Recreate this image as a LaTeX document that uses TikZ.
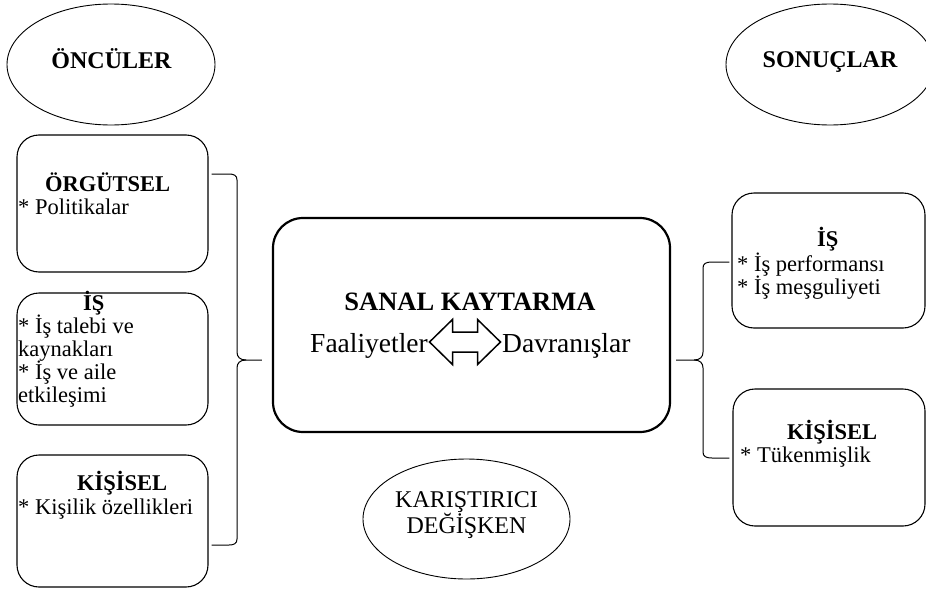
\documentclass[tikz,border=0pt]{standalone}
\usepackage{fontspec}
\setmainfont{Liberation Serif}
\usetikzlibrary{shapes.geometric,calc}
\begin{document}
\begin{tikzpicture}[x=1pt,y=-1pt,
  oval/.style={ellipse,draw,line width=0.9pt,inner sep=0pt},
  rbox/.style={draw,line width=1.1pt,rounded corners=22pt,inner sep=0pt},
  cbox/.style={draw,line width=2.2pt,rounded corners=30pt,inner sep=0pt},
  bracepath/.style={line width=1pt},
  ttl/.style={font=\bfseries\fontsize{24}{26}\selectfont,anchor=base,inner sep=0pt},
  hd/.style={font=\bfseries\fontsize{22.5}{24}\selectfont,anchor=base west,inner sep=0pt},
  bl/.style={font=\fontsize{22.5}{24}\selectfont,anchor=base west,inner sep=0pt},
  ctitle/.style={font=\bfseries\fontsize{26.5}{28}\selectfont,anchor=base,inner sep=0pt},
  ctext/.style={font=\fontsize{27.5}{29}\selectfont,inner sep=0pt},
  mtext/.style={font=\fontsize{24}{26}\selectfont,anchor=base,inner sep=0pt}
]
\path[use as bounding box] (0,0) rectangle (926,589);
\clip (0,0) rectangle (926,589);

% ellipses
\node[oval,minimum width=208pt,minimum height=121pt] (anc) at (111,64.5) {};
\node[oval,minimum width=208pt,minimum height=121pt] (res) at (830,64.5) {};
\node[oval,minimum width=207pt,minimum height=120pt] (mod) at (466.5,519) {};
\node[ttl] (ancT) at (111.5,68) {ÖNCÜLER};
\node[ttl] (resT) at (830,67) {SONUÇLAR};
\node[mtext] (modA) at (466.5,507) {KARIŞTIRICI};
\node[mtext] (modB) at (466.5,533) {DEĞİŞKEN};

% left boxes
\node[rbox,minimum width=191pt,minimum height=137pt] (o1) at (112.5,203.5) {};
\node[rbox,minimum width=191pt,minimum height=132pt] (o2) at (112.5,359) {};
\node[rbox,minimum width=191pt,minimum height=132pt] (o3) at (112.5,521) {};
\node[hd] (o1h) at (45,191) {ÖRGÜTSEL};
\node[bl] (o1a) at (18,214) {* Politikalar};
\node[hd] (o2h) at (83,310) {İŞ};
\node[bl] (o2a) at (18,333) {* İş talebi ve};
\node[bl] (o2b) at (18,356) {kaynakları};
\node[bl] (o2c) at (18,379) {* İş ve aile};
\node[bl] (o2d) at (18,402) {etkileşimi};
\node[hd] (o3h) at (77,490) {KİŞİSEL};
\node[bl] (o3a) at (18,514) {* Kişilik özellikleri};

% centre box
\node[cbox,minimum width=397pt,minimum height=214pt] (cb) at (471.5,325) {};
\node[ctitle] (cbT) at (470,310) {SANAL KAYTARMA};
\node[ctext,anchor=base east] (cbL) at (428,352) {Faaliyetler};
\node[ctext,anchor=base west] (cbR) at (502,352) {Davranışlar};
\draw[line width=1.5pt,line join=miter]
  ($(cbL.base east)+(1.5,-10)$) coordinate (arL)
  (arL) -- ++(23,-22.5) -- ++(0,12.5) -- ++(25,0) -- ++(0,-12.5)
  -- ++(23,22.5) -- ++(-23,22.5) -- ++(0,-12.5) -- ++(-25,0)
  -- ++(0,12.5) -- cycle;

% right boxes
\node[rbox,minimum width=193pt,minimum height=135pt] (r1) at (828.5,260.5) {};
\node[rbox,minimum width=192pt,minimum height=137pt] (r2) at (829,457.5) {};
\node[hd] (r1h) at (817,246) {İŞ};
\node[bl] (r1a) at (737,271) {* İş performansı};
\node[bl] (r1b) at (737,294) {* İş meşguliyeti};
\node[hd] (r2h) at (787,439) {KİŞİSEL};
\node[bl] (r2a) at (740,462) {* Tükenmişlik};

% left brace
\coordinate (lbA) at ($(o1.east)+(3,-29.5)$);
\coordinate (lbB) at ($(o3.east)+(3,24)$);
\coordinate (lbTip) at ($(cb.west)+(-10,35)$);
\draw[bracepath] (lbA) -- (229,174) .. controls (234,174) and (237,175.5) .. (237,180)
  -- (237,352) .. controls (237,357) and (240,360) .. (246,360) -- (lbTip);
\draw[bracepath] (246,360) .. controls (240,360) and (237,363) .. (237,368)
  -- (237,539) .. controls (237,543.5) and (234,545) .. (229,545) -- (lbB);

% right brace
\coordinate (rbA) at ($(r1.west)+(-2,1.5)$);
\coordinate (rbB) at ($(r2.west)+(-3,0.5)$);
\coordinate (rbTip) at ($(cb.east)+(5,35)$);
\draw[bracepath] (rbA) -- (712,262) .. controls (706,262) and (703,263.5) .. (703,268)
  -- (703,352) .. controls (703,357) and (700,360) .. (694,360) -- (rbTip);
\draw[bracepath] (694,360) .. controls (700,360) and (703,363) .. (703,368)
  -- (703,452) .. controls (703,456.5) and (706,458) .. (712,458) -- (rbB);
\end{tikzpicture}
\end{document}
